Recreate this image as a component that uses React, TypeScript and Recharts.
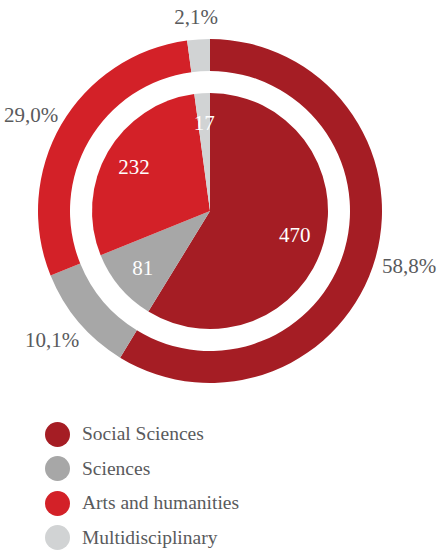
import { PieChart, Pie, Cell } from 'recharts'

const categories = ['Social Sciences', 'Sciences', 'Arts and humanities', 'Multidisciplinary']
const counts = [470, 81, 232, 17]
const percentLabels = ['58,8%', '10,1%', '29,0%', '2,1%']

const COLORS = ['#a51d24', '#a7a7a7', '#d32128', '#d1d3d4']
const FONT = '"Liberation Serif", "Times New Roman", serif'
const TEXT_GRAY = '#595a5c'
const RADIAN = Math.PI / 180

const data = categories.map((name, i) => ({ name, value: counts[i], pct: percentLabels[i] }))

// percentages sit on a slightly flattened ring outside the donut
const renderOuterLabel = (props: any) => {
  const { cx, cy, midAngle, index } = props
  const x = cx + 207 * Math.cos(-midAngle * RADIAN)
  const y = cy + 2 + 196 * Math.sin(-midAngle * RADIAN)
  return (
    <text x={x} y={y} fill={TEXT_GRAY} textAnchor="middle" dominantBaseline="central" fontSize={21} fontFamily={FONT}>
      {data[index].pct}
    </text>
  )
}

const renderInnerLabel = (props: any) => {
  const { cx, cy, midAngle, index } = props
  const r = 88
  const x = cx + r * Math.cos(-midAngle * RADIAN)
  const y = cy + r * Math.sin(-midAngle * RADIAN)
  return (
    <text x={x} y={y} fill="#ffffff" textAnchor="middle" dominantBaseline="central" fontSize={21} fontFamily={FONT}>
      {data[index].value}
    </text>
  )
}

function ChartLegend() {
  return (
    <div style={{ position: 'absolute', top: 417, left: 45, fontFamily: FONT }}>
      {data.map((entry, i) => (
        <div key={entry.name} style={{ display: 'flex', alignItems: 'center', height: 34.5 }}>
          <span
            style={{
              display: 'inline-block',
              width: 25,
              height: 25,
              borderRadius: '50%',
              background: COLORS[i],
              marginRight: 12,
            }}
          />
          <span style={{ color: TEXT_GRAY, fontSize: 19.5 }}>{entry.name}</span>
        </div>
      ))}
    </div>
  )
}

export default function App() {
  return (
    <div style={{ position: 'absolute', top: 0, left: 0, width: 441, height: 552, background: '#fff' }}>
      <PieChart width={441} height={552} margin={{ top: 0, right: 0, bottom: 0, left: 0 }}>
        <Pie
          data={data}
          dataKey="value"
          cx={210}
          cy={211}
          startAngle={90}
          endAngle={-270}
          outerRadius={118}
          stroke="none"
          labelLine={false}
          label={renderInnerLabel}
          isAnimationActive={false}
        >
          {data.map((entry, i) => (
            <Cell key={`in-${i}`} fill={COLORS[i]} />
          ))}
        </Pie>
        <Pie
          data={data}
          dataKey="value"
          cx={210}
          cy={211}
          startAngle={90}
          endAngle={-270}
          innerRadius={140}
          outerRadius={172}
          stroke="none"
          labelLine={false}
          label={renderOuterLabel}
          isAnimationActive={false}
        >
          {data.map((entry, i) => (
            <Cell key={`out-${i}`} fill={COLORS[i]} />
          ))}
        </Pie>
      </PieChart>
      <ChartLegend />
    </div>
  )
}
